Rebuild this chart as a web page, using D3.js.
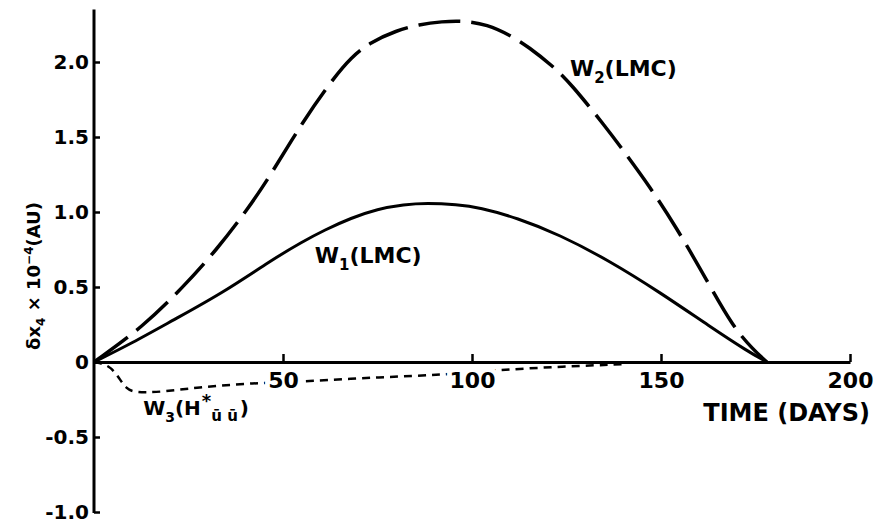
<!DOCTYPE html>
<html>
<head>
	<meta charset="UTF-8">
	<title>W curves</title>
	<script src="https://cdn.jsdelivr.net/npm/d3@7"></script>
	<style>
		body { margin: 0; background: #fff; }
		text { font-family: "DejaVu Sans", sans-serif; font-weight: bold; fill: #000; }
	</style>
</head>
<body>
	<svg id="chart" width="879" height="528"></svg>
	<script type="text/javascript">
	// values (day, value)
	var w1Days = [0, 10, 21, 34, 47, 55, 61, 68, 75, 82, 88, 96, 102, 112, 123, 136, 150, 163, 173, 178];
	var w1Vals = [0, 0.125, 0.28, 0.46, 0.68, 0.80, 0.88, 0.96, 1.02, 1.05, 1.06, 1.05, 1.03, 0.96, 0.85, 0.68, 0.46, 0.235, 0.07, 0];

	var w2Days = [0, 13, 23.6, 32.5, 40.4, 46.6, 55.4, 63.3, 68, 73, 80, 86, 92, 98, 104, 110, 115, 121.5, 126, 135.6, 140, 147, 154, 162, 169, 174.5, 178];
	var w2Vals = [0, 0.235, 0.50, 0.75, 1.01, 1.24, 1.61, 1.89, 2.03, 2.13, 2.21, 2.25, 2.27, 2.275, 2.25, 2.18, 2.10, 1.97, 1.86, 1.56, 1.41, 1.17, 0.90, 0.55, 0.235, 0.08, 0];

	var w3Days = [0, 4, 6.5, 8.5, 11, 18, 27, 42, 56, 76, 92, 107, 124, 140];
	var w3Vals = [0, -0.02, -0.1, -0.18, -0.205, -0.2, -0.17, -0.14, -0.13, -0.1, -0.087, -0.053, -0.03, -0.015];

	var xTicks = [50, 100, 150, 200];
	var yTicks = [-1.0, -0.5, 0, 0.5, 1.0, 1.5, 2.0];

	var svg = d3.select("#chart");

	var x = d3.scaleLinear().domain([0, 200]).range([94, 850]);
	var y = d3.scaleLinear().domain([-1, 2]).range([512, 62]);

	function pairs(days, vals) {
		return days.map(function(d, i) { return [d, vals[i]]; });
	}

	var line = d3.line()
		.x(function(d) { return x(d[0]); })
		.y(function(d) { return y(d[1]); })
		.curve(d3.curveBasis);

	// curves
	svg.append("path")
		.attr("d", line(pairs(w3Days, w3Vals)))
		.attr("fill", "none").attr("stroke", "#000")
		.attr("stroke-width", 2.5)
		.attr("stroke-dasharray", "8,6");

	svg.append("path")
		.attr("d", line(pairs(w2Days, w2Vals)))
		.attr("fill", "none").attr("stroke", "#000")
		.attr("stroke-width", 3.5)
		.attr("stroke-dasharray", "42,11");

	svg.append("path")
		.attr("d", line(pairs(w1Days, w1Vals)))
		.attr("fill", "none").attr("stroke", "#000")
		.attr("stroke-width", 3);

	// x axis, ticks pointing up
	var xAxis = svg.append("g")
		.attr("transform", "translate(0," + y(0) + ")")
		.call(d3.axisBottom(x).tickValues(xTicks).tickSizeInner(-8).tickSizeOuter(0).tickPadding(10));
	xAxis.select(".domain").attr("stroke-width", 3);
	xAxis.selectAll(".tick line").attr("stroke-width", 2.5);
	xAxis.selectAll("text")
		.attr("font-size", 22)
		.attr("font-family", "DejaVu Sans")
		.style("paint-order", "stroke")
		.attr("stroke", "#fff").attr("stroke-width", 10);

	// y axis, ticks pointing right
	var yAxis = svg.append("g")
		.attr("transform", "translate(" + x(0) + ",0)")
		.call(d3.axisLeft(y).tickValues(yTicks).tickSizeInner(-6).tickSizeOuter(0).tickPadding(5)
			.tickFormat(function(v) { return v === 0 ? "0" : v.toFixed(1); }));
	yAxis.select(".domain").remove();
	yAxis.selectAll(".tick line").attr("stroke-width", 2.5);
	yAxis.selectAll("text")
		.attr("font-size", 20)
		.attr("font-family", "DejaVu Sans");
	yAxis.append("line")
		.attr("x1", 0).attr("x2", 0)
		.attr("y1", y(-1) + 1).attr("y2", y(2.35))
		.attr("stroke", "#000").attr("stroke-width", 3);

	// axis titles
	svg.append("text")
		.attr("x", 870).attr("y", 421)
		.attr("text-anchor", "end")
		.attr("font-size", 24)
		.text("TIME (DAYS)");

	var yTitle = svg.append("text")
		.attr("transform", "translate(40,276) rotate(-90)")
		.attr("text-anchor", "middle")
		.attr("font-size", 18);
	yTitle.append("tspan").text("δx");
	yTitle.append("tspan").attr("font-size", 12).attr("dy", 5).text("4");
	yTitle.append("tspan").attr("dy", -5).text(" × 10");
	yTitle.append("tspan").attr("font-size", 12).attr("dy", -7).text("−4");
	yTitle.append("tspan").attr("dy", 7).text("(AU)");

	// curve labels
	var l1 = svg.append("text")
		.attr("x", x(58.4)).attr("y", y(0.66))
		.attr("font-size", 22);
	l1.append("tspan").text("W");
	l1.append("tspan").attr("font-size", 15).attr("dy", 7).text("1");
	l1.append("tspan").attr("dy", -7).text("(LMC)");

	var l2 = svg.append("text")
		.attr("x", x(125.9)).attr("y", y(1.91))
		.attr("font-size", 22);
	l2.append("tspan").text("W");
	l2.append("tspan").attr("font-size", 15).attr("dy", 7).text("2");
	l2.append("tspan").attr("dy", -7).text("(LMC)");

	var l3 = svg.append("text")
		.attr("x", x(13)).attr("y", y(-0.353))
		.attr("font-size", 20);
	l3.append("tspan").text("W");
	l3.append("tspan").attr("font-size", 14).attr("dy", 7).text("3");
	l3.append("tspan").attr("dy", -7).text("(H");
	l3.append("tspan").attr("font-size", 18).attr("dx", 1).attr("dy", -8).text("*");
	l3.append("tspan").attr("font-size", 15).attr("dy", 14).text("ū ū");
	l3.append("tspan").attr("dx", 2).attr("dy", -6).text(")");
	</script>
</body>
</html>
